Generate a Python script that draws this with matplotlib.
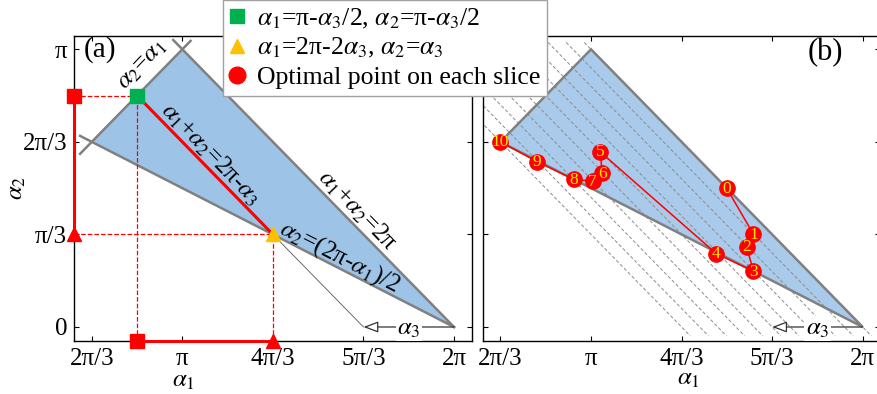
import numpy as np
import matplotlib.pyplot as plt
from matplotlib.lines import Line2D

plt.rcParams['font.family'] = ['Liberation Serif', 'DejaVu Serif']
plt.rcParams['mathtext.fontset'] = 'stix'

pi = np.pi

# -----------------------------
# Data
# -----------------------------
x_ticks = [2 * pi / 3, pi, 4 * pi / 3, 5 * pi / 3, 2 * pi]
x_labels = ['2π/3', 'π', '4π/3', '5π/3', '2π']
y_ticks = [0, pi / 3, 2 * pi / 3, pi]
y_labels = ['0', 'π/3', '2π/3', 'π']

# corners of the feasible (alpha1, alpha2) region
region_a1 = [2 * pi, pi, 2 * pi / 3]
region_a2 = [0, pi, 2 * pi / 3]

# example slice alpha3 = pi/3 and its two end points
slice_a3 = pi / 3
sq_a1, sq_a2 = 5 * pi / 6, 5 * pi / 6
tri_a1, tri_a2 = 4 * pi / 3, pi / 3

# optimal point found on each slice (0..10)
opt_a1 = [4.71, 5.02, 4.94, 5.02, 4.59, 3.25, 3.27, 3.16, 2.94, 2.52, 2.094]
opt_a2 = [1.57, 1.05, 0.91, 0.63, 0.83, 1.98, 1.74, 1.65, 1.67, 1.87, 2.094]
opt_ids = ['0', '1', '2', '3', '4', '5', '6', '7', '8', '9', '10']

# slices alpha1 + alpha2 = 2pi - alpha3, alpha3 in steps of pi/15
slice_steps = np.array([0, 1, 2, 3, 4, 5, 6, 7, 8, 9, 10])

xlo, xhi = 1.889, 6.488
ylo, yhi = -0.155, 3.292

blue_a = '#9dc3e6'
blue_b = '#a9caea'
edge = '#808080'
red = '#ff0000'
green = '#00b050'
orange = '#ffc000'


def style(ax):
    ax.set_xlim(xlo, xhi)
    ax.set_ylim(ylo, yhi)
    ax.set_xticks(x_ticks)
    ax.set_xticklabels(x_labels)
    ax.set_yticks(y_ticks)
    ax.tick_params(direction='in', top=True, right=True, length=3.5,
                   width=0.8, labelsize=18, pad=5)
    for s in ax.spines.values():
        s.set_linewidth(1.0)


def alpha3_arrow(ax):
    ax.annotate('', xy=(2 * pi - slice_a3, 0), xytext=(2 * pi, 0),
                arrowprops=dict(arrowstyle='-|>,head_length=0.45,head_width=0.17',
                                fc='white', ec='#333333', lw=0.9,
                                mutation_scale=20, shrinkA=0, shrinkB=0),
                zorder=4)
    ax.text(5.76, -0.02, r'$\alpha_3$', fontsize=18, ha='center', va='center',
            bbox=dict(fc='white', ec='none', pad=1.0), zorder=6)


fig = plt.figure(figsize=(8.77, 3.94), dpi=100)
ax1 = fig.add_axes([0.0844, 0.1353, 0.4535, 0.7733])
ax2 = fig.add_axes([0.5504, 0.1353, 0.4535, 0.7733])

# -----------------------------
# (a) one slice
# -----------------------------
style(ax1)
ax1.set_yticklabels(y_labels)
ax1.fill(region_a1, region_a2, color=blue_a, lw=0, zorder=1)
ax1.plot([region_a1[2] - 0.135, region_a1[1] + 0.095],
         [region_a2[2] - 0.135, region_a2[1] + 0.095], color=edge, lw=1.8, zorder=2)
ax1.plot([region_a1[1] - 0.105, region_a1[0]],
         [region_a2[1] + 0.105, region_a2[0]], color=edge, lw=1.8, zorder=2)
ax1.plot([region_a1[2] - 0.135, region_a1[0]],
         [region_a2[2] + 0.0675, region_a2[0]], color=edge, lw=1.8, zorder=2)

# projections of the two end points
ax1.plot([xlo, sq_a1], [sq_a2, sq_a2], '--', color=red, lw=0.9, zorder=3)
ax1.plot([sq_a1, sq_a1], [ylo, sq_a2], '--', color=red, lw=0.9, zorder=3)
ax1.plot([xlo, tri_a1], [tri_a2, tri_a2], '--', color=red, lw=0.9, zorder=3)
ax1.plot([tri_a1, tri_a1], [ylo, tri_a2], '--', color=red, lw=0.9, zorder=3)

ax1.plot([sq_a1, tri_a1], [sq_a2, tri_a2], color=red, lw=2.2, zorder=3)
ax1.plot([xlo, xlo], [tri_a2, sq_a2], color=red, lw=2.2, zorder=4, clip_on=False)
ax1.plot([sq_a1, tri_a1], [ylo, ylo], color=red, lw=2.2, zorder=4, clip_on=False)
ax1.plot([tri_a1, 2 * pi - slice_a3], [tri_a2, 0], color='#555555', lw=0.6, zorder=3)

ax1.plot([xlo, sq_a1], [sq_a2, ylo], 's', color=red, ms=10.5, zorder=5, clip_on=False)
ax1.plot([xlo, tri_a1], [tri_a2, ylo], '^', color=red, ms=10, zorder=5, clip_on=False)
ax1.plot([sq_a1], [sq_a2], 's', color=green, ms=10.5, zorder=5)
ax1.plot([tri_a1], [tri_a2], '^', color=orange, ms=10, zorder=5)

alpha3_arrow(ax1)

ax1.text(2.19, pi, '(a)', fontsize=21, ha='center', va='center')
ax1.text(2.68, 2.965, r'$\alpha_2$=$\alpha_1$', fontsize=18, rotation=46,
         ha='center', va='center', rotation_mode='anchor')
ax1.text(3.47, 1.96, r'$\alpha_1$+$\alpha_2$=2π-$\alpha_3$', fontsize=18, rotation=-46,
         ha='center', va='center', rotation_mode='anchor')
ax1.text(5.16, 1.32, r'$\alpha_1$+$\alpha_2$=2π', fontsize=18, rotation=-46,
         ha='center', va='center', rotation_mode='anchor')
ax1.text(4.96, 0.79, r'$\alpha_2$=(2π-$\alpha_1$)/2', fontsize=18, rotation=-27,
         ha='center', va='center', rotation_mode='anchor')

ax1.set_xlabel(r'$\alpha_1$', fontsize=18)
ax1.set_ylabel(r'$\alpha_2$', fontsize=18)
ax1.xaxis.set_label_coords(0.274, -0.095)
ax1.yaxis.set_label_coords(-0.115, 0.5)

# -----------------------------
# (b) optimum on every slice
# -----------------------------
style(ax2)
ax2.set_yticklabels([])
ax2.fill(region_a1, region_a2, color=blue_b, lw=0, zorder=1)
for k in slice_steps:
    s = 2 * pi - k * pi / 15
    ax2.plot([s - 3.22, s + 0.10], [3.22, -0.10], ls=(0, (3.5, 2.2)),
             color='#8c8c8c', lw=0.7, zorder=1.5)
ax2.fill(region_a1 + [region_a1[0]], region_a2 + [region_a2[0]],
         fc='none', ec=edge, lw=1.8, zorder=2)

ax2.plot(opt_a1, opt_a2, color=red, lw=1.1, zorder=3)
ax2.plot(opt_a1, opt_a2, 'o', color=red, ms=11, zorder=4)
for a1, a2, t in zip(opt_a1, opt_a2, opt_ids):
    ax2.text(a1, a2 - 0.005, t, color='#ffe600', fontsize=12.5, ha='center',
             va='center', zorder=5)

alpha3_arrow(ax2)
ax2.text(5.85, 3.11, '(b)', fontsize=22, ha='center', va='center')
ax2.set_xlabel(r'$\alpha_1$', fontsize=18)
ax2.xaxis.set_label_coords(0.516, -0.09)

# -----------------------------
# Legend
# -----------------------------
handles = [
    Line2D([], [], ls='none', marker='s', ms=10.5, color=green),
    Line2D([], [], ls='none', marker='^', ms=10, color=orange),
    Line2D([], [], ls='none', marker='o', ms=12, color=red),
]
labels = [
    r'$\alpha_1$=π-$\alpha_3$/2, $\alpha_2$=π-$\alpha_3$/2',
    r'$\alpha_1$=2π-2$\alpha_3$, $\alpha_2$=$\alpha_3$',
    'Optimal point on each slice',
]
fig.legend(handles, labels, loc='upper left', bbox_to_anchor=(0.254, 1.0),
           fontsize=18.5, frameon=True, fancybox=False, edgecolor='#a0a0a0',
           framealpha=1, borderpad=0.25, handlelength=0.6, handletextpad=0.5,
           labelspacing=0.22, borderaxespad=0)

fig.savefig('out.png', dpi=100)
